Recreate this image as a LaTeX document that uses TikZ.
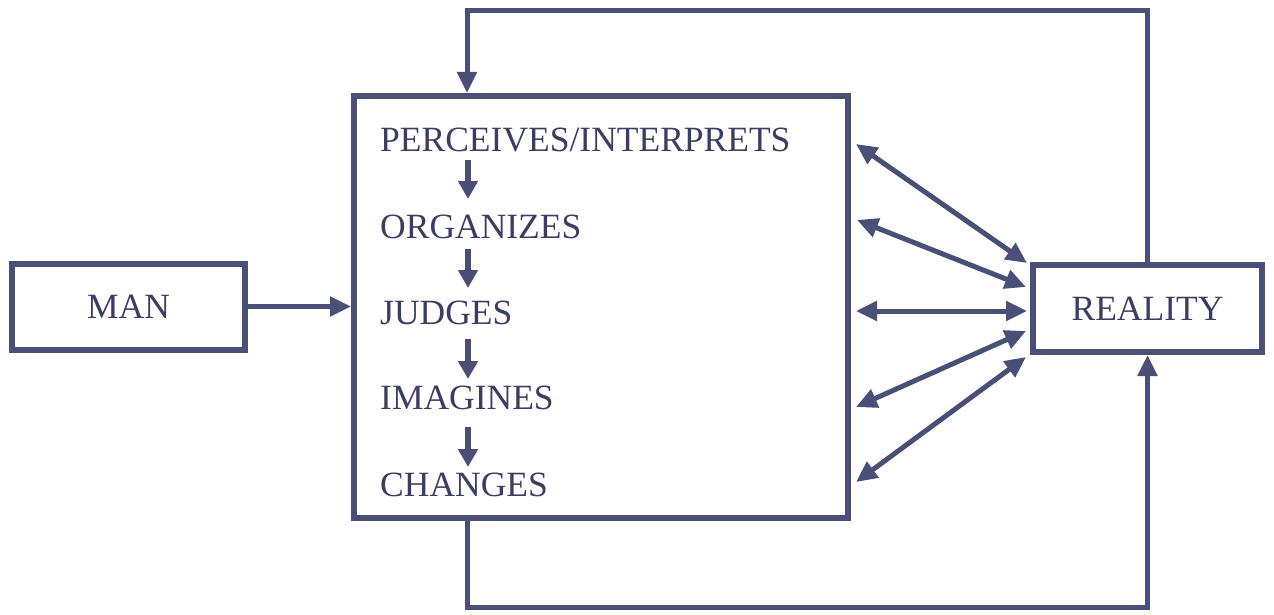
\documentclass[tikz,border=0pt]{standalone}
\usepackage{fontspec}
\setmainfont{Liberation Serif}
\usetikzlibrary{arrows.meta,calc}
\definecolor{ink}{RGB}{74,79,120}
\definecolor{txt}{RGB}{58,62,98}
\begin{document}
\begin{tikzpicture}[x=1pt,y=-1pt,
  box/.style={draw=ink,line width=6pt,fill=white,inner sep=0pt,
    font=\fontsize{35.5}{42}\selectfont,text=txt},
  item/.style={anchor=base west,inner sep=0pt,
    font=\fontsize{35.5}{42}\selectfont,text=txt},
  conn/.style={draw=ink,line width=5pt,
    -{Triangle[length=21pt,width=19pt]}},
  dbl/.style={draw=ink,line width=5pt,
    {Triangle[length=21pt,width=19pt]}-{Triangle[length=21pt,width=19pt]}},
  stepdown/.style={draw=ink,line width=6pt,
    -{Triangle[length=18pt,width=19pt]}}]
\useasboundingbox (0,0) rectangle (1274,615);

% boxes
\node[box,minimum width=233pt,minimum height=86pt] (man) at (128.5,306.5) {MAN};
\node[box,minimum width=494pt,minimum height=422pt] (main) at (601,307) {};
\node[box,minimum width=229pt,minimum height=87pt] (reality) at (1147.5,308.5) {REALITY};

% the five activities
\node[item] (p1) at (380,152) {PERCEIVES/INTERPRETS};
\node[item] (p2) at (380,238) {ORGANIZES};
\node[item] (p3) at (380,324) {JUDGES};
\node[item] (p4) at (380,409) {IMAGINES};
\node[item] (p5) at (380,496) {CHANGES};

\coordinate (a1) at (468,160); \coordinate (b1) at (468,199);
\coordinate (a2) at (468,249); \coordinate (b2) at (468,288);
\coordinate (a3) at (468,339); \coordinate (b3) at (468,379);
\coordinate (a4) at (468,427); \coordinate (b4) at (468,467);
\foreach \i in {1,...,4} \draw[stepdown] (a\i) -- (b\i);

% man into the process
\draw[conn] (man.east) -- (main.west |- man.east);

% exchanges with reality
\coordinate (l1) at (856,144); \coordinate (r1) at (1027,263);
\coordinate (l2) at (857,220); \coordinate (r2) at (1026,287);
\coordinate (l3) at (856,311); \coordinate (r3) at (1027,311);
\coordinate (l4) at (856,407); \coordinate (r4) at (1026,331);
\coordinate (l5) at (856,482); \coordinate (r5) at (1026,357);
\foreach \i in {1,...,5} \draw[dbl] (l\i) -- (r\i);

% feedback loops
\coordinate (tl) at (467,11);
\draw[conn] (reality.north) |- (tl) -- (main.north -| tl);
\coordinate (bl) at (467,607);
\draw[conn] (main.south -| bl) -- (bl) -| (reality.south);
\end{tikzpicture}
\end{document}
